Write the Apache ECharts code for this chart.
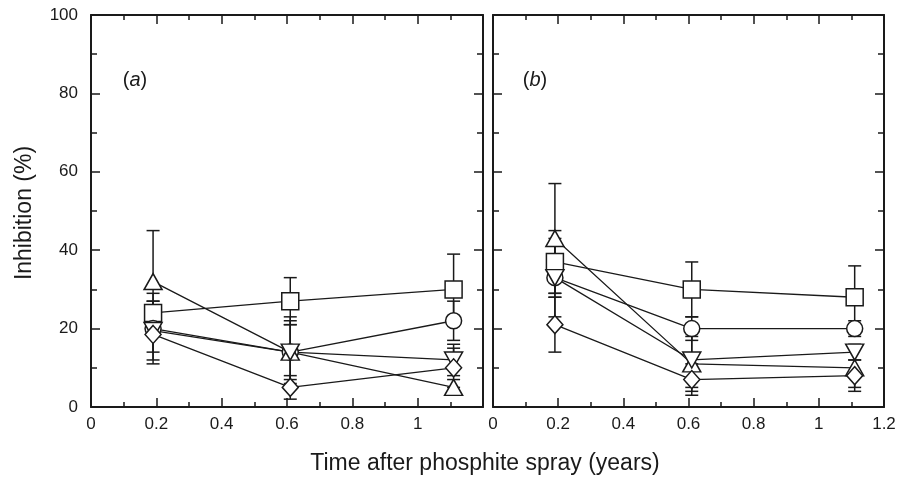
<!DOCTYPE html>
<html>
<head>
<meta charset="utf-8">
<script src="https://cdn.jsdelivr.net/npm/echarts@6/dist/echarts.min.js"></script>
<style>html,body{margin:0;padding:0;background:#fff}#c{width:899px;height:478px}</style>
</head>
<body>
<div id="c"></div>
<script>
// ---- data ----
const timesA = [0.19, 0.61, 1.11];
const timesB = [0.19, 0.61, 1.11];
const xTicks = [0, 0.2, 0.4, 0.6, 0.8, 1, 1.2];
const yTicks = [0, 20, 40, 60, 80, 100];

const aSquare = [24, 27, 30];     const aSquareErr = [3, 6, 9];
const aCircle = [20, 14, 22];     const aCircleErr = [9, 7, 5];
const aTriUp = [32, 14, 5];       const aTriUpErr = [13, 9, 2];
const aTriDown = [19.5, 14, 12];  const aTriDownErr = [7.5, 8, 4];
const aDiamond = [18.5, 5, 10];   const aDiamondErr = [4.5, 3, 5];

const bSquare = [37, 30, 28];     const bSquareErr = [8, 7, 8];
const bCircle = [33, 20, 20];     const bCircleErr = [5, 3, 2];
const bTriUp = [43, 11, 10];      const bTriUpErr = [14, 7, 5];
const bTriDown = [33, 12, 14];    const bTriDownErr = [10, 7, 2];
const bDiamond = [21, 7, 8];      const bDiamondErr = [7, 4, 4];

// ---- chart ----
const FONT = 'Liberation Sans';
const INK = '#1a1a1a';
const chart = echarts.init(document.getElementById('c'), null, {renderer: 'canvas'});

function xAx(grid, pos, showLabels, hideLast) {
  return {
    type: 'value', gridIndex: grid, position: pos, min: 0, max: 1.2, interval: 0.2,
    axisLine: {show: true, onZero: false, lineStyle: {color: INK, width: 2}},
    axisTick: {show: true, inside: true, length: 9, lineStyle: {color: INK, width: 1.5}},
    minorTick: {show: true, splitNumber: 2, length: 5, lineStyle: {color: INK, width: 1.5}},
    splitLine: {show: false},
    axisLabel: {show: showLabels, margin: 9, fontFamily: FONT, fontSize: 17, color: INK,
      formatter: v => (hideLast && v > 1.1) ? '' : String(v)}
  };
}
function yAx(grid, pos, showLabels) {
  return {
    type: 'value', gridIndex: grid, position: pos, min: 0, max: 100, interval: 20,
    axisLine: {show: true, onZero: false, lineStyle: {color: INK, width: 2}},
    axisTick: {show: true, inside: true, length: 9, lineStyle: {color: INK, width: 1.5}},
    minorTick: {show: true, splitNumber: 2, length: 6, lineStyle: {color: INK, width: 1.5}},
    splitLine: {show: false},
    axisLabel: {show: showLabels, margin: 13, fontFamily: FONT, fontSize: 17, color: INK}
  };
}

// axis indices: grid0 -> x0 (bottom), x1 (top); y0 (left), y1 (right)
//               grid1 -> x2 (bottom), x3 (top); y2 (left), y3 (right)
const xAxes = [xAx(0, 'bottom', true, true), xAx(0, 'top', false, false),
               xAx(1, 'bottom', true, false), xAx(1, 'top', false, false)];
const yAxes = [yAx(0, 'left', true), yAx(0, 'right', false),
               yAx(1, 'left', false), yAx(1, 'right', false)];

function errSeries(xi, yi, xs, vals, errs) {
  return {
    type: 'custom', xAxisIndex: xi, yAxisIndex: yi, z: 2, silent: true,
    data: xs.map((x, i) => [x, vals[i] - errs[i], vals[i] + errs[i]]),
    encode: {x: 0, y: [1, 2]},
    renderItem: function (params, api) {
      const x = api.value(0), lo = api.value(1), hi = api.value(2);
      const p1 = api.coord([x, lo]), p2 = api.coord([x, hi]);
      const w = 6.5;
      const st = {stroke: INK, lineWidth: 1.5};
      return {type: 'group', children: [
        {type: 'line', shape: {x1: p1[0], y1: p1[1], x2: p2[0], y2: p2[1]}, style: st},
        {type: 'line', shape: {x1: p1[0] - w, y1: p1[1], x2: p1[0] + w, y2: p1[1]}, style: st},
        {type: 'line', shape: {x1: p2[0] - w, y1: p2[1], x2: p2[0] + w, y2: p2[1]}, style: st}
      ]};
    }
  };
}
function lineSeries(xi, yi, xs, vals, symbol, size, rotate) {
  return {
    type: 'line', xAxisIndex: xi, yAxisIndex: yi, z: 3,
    data: xs.map((x, i) => [x, vals[i]]),
    symbol: symbol, symbolSize: size, symbolRotate: rotate || 0, showAllSymbol: true,
    lineStyle: {color: INK, width: 1.3},
    itemStyle: {color: '#fff', borderColor: INK, borderWidth: 1.5},
    emphasis: {disabled: true}, animation: false
  };
}

const panels = [
  {xi: 0, yi: 0, xs: timesA, sets: [
    [aSquare, aSquareErr, 'rect', 17, 0], [aCircle, aCircleErr, 'circle', 16, 0],
    [aTriUp, aTriUpErr, 'triangle', [18, 16], 0], [aTriDown, aTriDownErr, 'triangle', [18, 16], 180],
    [aDiamond, aDiamondErr, 'diamond', [16, 18], 0]]},
  {xi: 2, yi: 2, xs: timesB, sets: [
    [bSquare, bSquareErr, 'rect', 17, 0], [bCircle, bCircleErr, 'circle', 16, 0],
    [bTriUp, bTriUpErr, 'triangle', [18, 16], 0], [bTriDown, bTriDownErr, 'triangle', [18, 16], 180],
    [bDiamond, bDiamondErr, 'diamond', [16, 18], 0]]}
];

const series = [];
panels.forEach(p => {
  p.sets.forEach(s => series.push(errSeries(p.xi, p.yi, p.xs, s[0], s[1])));
  p.sets.forEach(s => series.push(lineSeries(p.xi, p.yi, p.xs, s[0], s[2], s[3], s[4])));
});

chart.setOption({
  animation: false,
  backgroundColor: '#fff',
  grid: [
    {left: 91, top: 15, width: 392, height: 392},
    {left: 493, top: 15, width: 391, height: 392}
  ],
  xAxis: xAxes,
  yAxis: yAxes,
  series: series,
  graphic: [
    {type: 'text', x: 25, y: 213, rotation: Math.PI / 2, style: {
      text: 'Inhibition (%)', fontFamily: FONT, fontSize: 23, fill: INK, align: 'center', verticalAlign: 'middle'}},
    {type: 'text', x: 485, y: 464, style: {
      text: 'Time after phosphite spray (years)', fontFamily: FONT, fontSize: 23, fill: INK, align: 'center', verticalAlign: 'middle'}},
    {type: 'text', x: 135, y: 80, style: {
      text: '({i|a})', rich: {i: {fontStyle: 'italic', fontFamily: FONT, fontSize: 20, fill: INK}},
      fontFamily: FONT, fontSize: 20, fill: INK, align: 'center', verticalAlign: 'middle'}},
    {type: 'text', x: 535, y: 80, style: {
      text: '({i|b})', rich: {i: {fontStyle: 'italic', fontFamily: FONT, fontSize: 20, fill: INK}},
      fontFamily: FONT, fontSize: 20, fill: INK, align: 'center', verticalAlign: 'middle'}}
  ]
});
</script>
</body>
</html>
